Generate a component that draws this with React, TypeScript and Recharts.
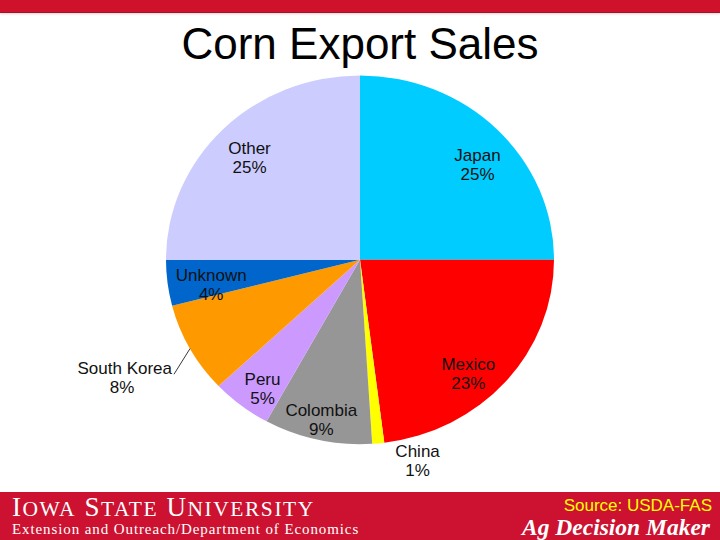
import React from 'react';
import { PieChart, Pie, Cell } from 'recharts';

const countries = ['Japan', 'Mexico', 'China', 'Colombia', 'Peru', 'South Korea', 'Unknown', 'Other'];
const shares = [25, 23, 1, 9, 5, 8, 4, 25];
const colors = ['#00CCFF', '#FF0000', '#FFFF00', '#969696', '#CC99FF', '#FF9900', '#0066CC', '#CCCCFF'];

const chartData = countries.map((name, i) => ({ name, value: shares[i] }));

// the original pie is a little squashed vertically
const SQUASH = 0.95;
const RAD = Math.PI / 180;
const labelFont = '"Liberation Sans", Arial, sans-serif';
const serif = '"Liberation Serif", "Times New Roman", serif';

// small hand nudges so labels sit where the slide had them
const nudge: Record<string, [number, number]> = {
  Japan: [5, 2],
  Mexico: [-11, 4],
  Unknown: [9, -4],
  Colombia: [-4, 3],
  Other: [2, -5],
};

const renderLabel = (props: any) => {
  const { cx, cy, midAngle, outerRadius, index } = props;
  const name = countries[index];
  const pct = `${shares[index]}%`;
  const cos = Math.cos(-midAngle * RAD);
  const sin = Math.sin(-midAngle * RAD);
  const unscale = `scale(1,${1 / SQUASH})`;

  if (name === 'South Korea') {
    const sx = cx + outerRadius * cos;
    const sy = cy + outerRadius * sin;
    const ex = sx - 16;
    const ey = sy + 27;
    return (
      <g>
        <path d={`M${sx},${sy}L${ex},${ey}`} stroke="#333" strokeWidth={1} fill="none" />
        <text transform={`translate(${ex - 2},${ey}) ${unscale}`} fontFamily={labelFont} fontSize={17} fill="#111">
          <tspan x={0} y={0} textAnchor="end">{name}</tspan>
          <tspan x={-50} y={19} textAnchor="middle">{pct}</tspan>
        </text>
      </g>
    );
  }

  let r = outerRadius * 0.82;
  let dx = 0;
  let dy = 10;
  if (name === 'China') {
    r = outerRadius + 14;
    dx = 38;
    dy = 4;
  }
  const [nx, ny] = nudge[name] || [0, 0];
  const x = cx + r * cos + dx + nx;
  const y = cy + r * sin + (dy + ny) / SQUASH;
  return (
    <text transform={`translate(${x},${y}) ${unscale}`} fontFamily={labelFont} fontSize={17} fill="#111" textAnchor="middle">
      <tspan x={0} y={-4}>{name}</tspan>
      <tspan x={0} y={15}>{pct}</tspan>
    </text>
  );
};

export default function App() {
  return (
    <div style={{ position: 'absolute', left: 0, top: 0, width: 720, height: 540, background: '#fff', overflow: 'hidden' }}>
      <div style={{ position: 'absolute', left: 0, top: 0, width: 720, height: 12, background: '#D0112B', borderBottom: '1px solid #8E1E2E', boxShadow: '0 1px 2px #f4c8cf' }} />
      <div
        style={{
          position: 'absolute',
          left: 0,
          top: 18,
          width: 720,
          textAlign: 'center',
          fontFamily: labelFont,
          fontSize: 44,
          lineHeight: '52px',
          color: '#000',
        }}
      >
        Corn Export Sales
      </div>
      <div style={{ position: 'absolute', left: 0, top: 0, transform: `scaleY(${SQUASH})`, transformOrigin: '0 0' }}>
        <PieChart width={720} height={540} margin={{ top: 0, right: 0, bottom: 0, left: 0 }}>
          <Pie
            data={chartData}
            dataKey="value"
            nameKey="name"
            cx={360}
            cy={273.5}
            outerRadius={194}
            startAngle={90}
            endAngle={-270}
            stroke="none"
            label={renderLabel}
            labelLine={false}
            isAnimationActive={false}
          >
            {chartData.map((d, i) => (
              <Cell key={d.name} fill={colors[i]} />
            ))}
          </Pie>
        </PieChart>
      </div>
      <div style={{ position: 'absolute', left: 0, top: 492, width: 720, height: 48, background: '#CC1230' }}>
        <div
          style={{
            position: 'absolute',
            left: 12,
            top: 4,
            fontFamily: serif,
            fontSize: 27,
            letterSpacing: 1.55,
            color: '#fff',
            lineHeight: '22px',
            whiteSpace: 'nowrap',
          }}
        >
          I<span style={{ fontSize: 21.5 }}>OWA</span> S<span style={{ fontSize: 21.5 }}>TATE</span> U
          <span style={{ fontSize: 21.5 }}>NIVERSITY</span>
        </div>
        <div
          style={{
            position: 'absolute',
            left: 12,
            top: 30,
            fontFamily: serif,
            fontSize: 15,
            letterSpacing: 0.9,
            color: '#fff',
            lineHeight: '14px',
            whiteSpace: 'nowrap',
          }}
        >
          Extension and Outreach/Department of Economics
        </div>
        <div
          style={{
            position: 'absolute',
            right: 8,
            top: 6,
            fontFamily: labelFont,
            fontSize: 17,
            color: '#FFFF00',
            lineHeight: '16px',
            whiteSpace: 'nowrap',
          }}
        >
          Source: USDA-FAS
        </div>
        <div
          style={{
            position: 'absolute',
            right: 10,
            top: 25,
            fontFamily: serif,
            fontSize: 23.5,
            fontWeight: 'bold',
            fontStyle: 'italic',
            color: '#fff',
            lineHeight: '20px',
            whiteSpace: 'nowrap',
          }}
        >
          Ag Decision Maker
        </div>
      </div>
    </div>
  );
}
